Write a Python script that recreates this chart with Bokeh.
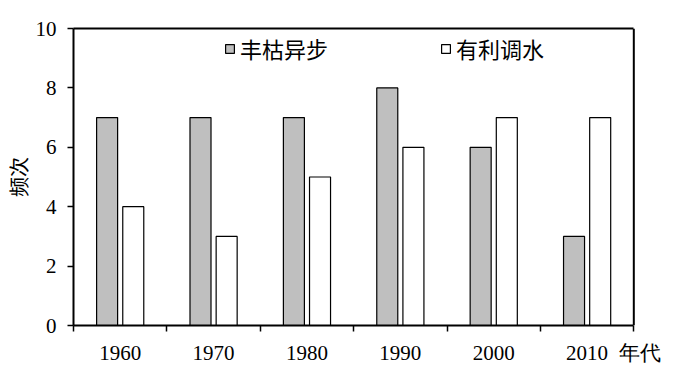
from bokeh.plotting import figure
from bokeh.models import FixedTicker, Range1d, Legend, LegendItem, ColumnDataSource, LinearAxis, Span
from bokeh.embed import file_html
from bokeh.resources import INLINE

decades = ["1960", "1970", "1980", "1990", "2000", "2010"]
fengku_yibu = [7, 7, 7, 8, 6, 3]
youli_diaoshui = [4, 3, 5, 6, 7, 7]
y_ticks = [0, 2, 4, 6, 8, 10]
x_unit_label = "年代"

n = len(decades)
centers = [i + 0.5 for i in range(n)]
src = ColumnDataSource(dict(
    x1=[c - 0.14 for c in centers],
    x2=[c + 0.14 for c in centers],
    a=fengku_yibu,
    b=youli_diaoshui,
))

unit_pos = n + 0.07

p = figure(width=685, height=372, output_backend="svg", toolbar_location=None,
           x_range=Range1d(0, n + 0.5), y_range=Range1d(0, 10))
p.min_border_left = 72
p.min_border_top = 28
p.min_border_right = 5
p.min_border_bottom = 47
p.background_fill_color = "white"
p.border_fill_color = "white"
p.outline_line_color = None
p.xgrid.visible = False
p.ygrid.visible = False

r1 = p.vbar(x="x1", top="a", width=0.225, source=src, fill_color="#bfbfbf",
            line_color="black", line_width=1.2)
r2 = p.vbar(x="x2", top="b", width=0.225, source=src, fill_color="white",
            line_color="black", line_width=1.2)

serif = "Liberation Serif"
cjk = "Noto Sans CJK SC"

xa = p.xaxis[0]
xa.bounds = (0, n)
xa.ticker = FixedTicker(ticks=centers + [unit_pos], minor_ticks=list(range(n + 1)))
labels = {c: d for c, d in zip(centers, decades)}
labels[unit_pos] = x_unit_label
xa.major_label_overrides = labels
xa.major_tick_out = 0
xa.major_tick_in = 0
xa.minor_tick_out = 6
xa.minor_tick_in = 0
xa.minor_tick_line_color = "black"
xa.minor_tick_line_width = 1.5
xa.axis_line_width = 2
xa.axis_line_color = "black"
xa.major_label_text_font = serif
xa.major_label_text_font_size = "21px"
xa.major_label_text_color = "black"
xa.major_label_standoff = 9

top = LinearAxis(bounds=(0, n), ticker=FixedTicker(ticks=[], minor_ticks=[]),
                 axis_line_width=2, axis_line_color="black",
                 major_label_text_font_size="0px", major_tick_out=0, minor_tick_out=0)
p.add_layout(top, "above")
p.add_layout(Span(location=n, dimension="height", line_color="black", line_width=2))

ya = p.yaxis[0]
ya.ticker = FixedTicker(ticks=y_ticks, minor_ticks=[])
ya.major_tick_out = 6
ya.major_tick_in = 0
ya.major_tick_line_width = 1.5
ya.axis_line_width = 2
ya.major_label_text_font = serif
ya.major_label_text_font_size = "21px"
ya.major_label_text_color = "black"
ya.major_label_standoff = 11
ya.axis_label = "频次"
ya.axis_label_text_font = cjk
ya.axis_label_text_font_style = "normal"
ya.axis_label_text_font_size = "20px"
ya.axis_label_text_color = "black"
ya.axis_label_standoff = 0

legend = Legend(items=[LegendItem(label="丰枯异步", renderers=[r1]),
                       LegendItem(label="有利调水", renderers=[r2])],
                orientation="horizontal", location=(151, 261),
                spacing=112, glyph_width=11, glyph_height=11,
                label_standoff=5, label_text_font=cjk, label_text_font_size="22px",
                label_text_color="black", border_line_alpha=0,
                background_fill_alpha=0, padding=0, margin=0)
p.add_layout(legend, "center")

open("out.html", "w").write(file_html(p, INLINE))
